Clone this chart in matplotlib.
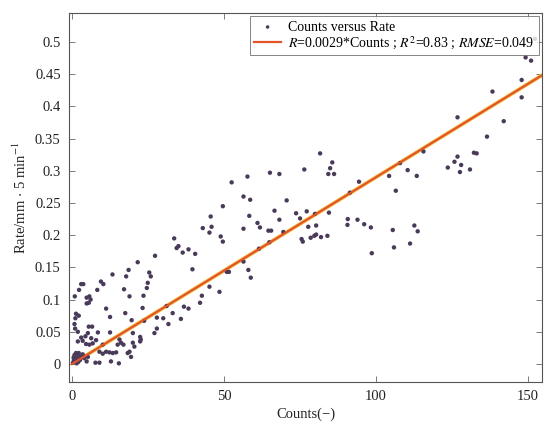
import matplotlib
matplotlib.use("Agg")
import matplotlib.pyplot as plt
import numpy as np

plt.rcParams['font.family'] = ['Liberation Serif', 'DejaVu Serif']
plt.rcParams['mathtext.fontset'] = 'stix'

counts = [
    0.3, 0.6, 1.0, 1.3, 1.8, 2.2, 2.6, 3.0, 3.5, 0.8, 1.5, 4.0, 2.0, 0.5,
    5.5, 11.2, 1.3, 2.2, 1.1, 12.5, 17.5, 0.8, 1.0, 1.9, 5.5, 6.6, 5.2, 4.4, 8.5, 12.5,
    3.0, 3.5, 4.6, 1.9, 6.3, 7.9, 5.7, 6.8, 10.1, 15.6, 16.1, 16.9, 15.0, 20.0, 20.5,
    9.0, 10.1, 11.2, 12.3, 13.4, 14.5, 18.3, 18.9, 1.3, 2.2, 5.2, 4.8, 7.7, 9.0, 12.8, 15.4, 19.4,
    27.3, 21.6, 13.3, 18.6, 25.4, 25.9, 17.8, 3.0, 3.7, 9.5, 10.3, 2.3, 8.3, 17.1, 24.9, 24.6,
    0.9, 4.8, 5.7, 6.1, 4.8, 18.9,
    23.5, 23.2, 31.1, 33.1, 35.8, 27.9, 30.0, 31.7, 23.7, 19.6, 27.9, 27.1, 22.4, 22.6, 22.4, 20.0,
    33.6, 34.4, 35.0,
    81.6, 85.6, 84.9, 84.3, 86.2, 76.4, 65.1, 68.2, 57.7, 52.5, 56.4, 58.6, 70.6, 49.6, 66.6,
    73.7, 75.0, 77.2, 79.9, 84.5, 58.3, 45.6, 68.2, 61.0, 61.8, 45.9, 43.0, 45.2, 56.4, 64.6,
    65.5, 69.5, 77.7, 80.3, 75.5, 75.9, 78.5, 79.7, 80.3, 81.9, 84.0, 90.7, 93.9, 90.6, 91.4,
    94.4, 48.9, 49.6, 56.4, 61.5, 64.9, 36.4, 38.3, 40.5, 39.6, 50.9, 51.6, 58.0, 58.8, 45.2,
    48.5, 42.7, 42.1, 36.8, 38.3,
    149.2, 151.0, 147.9, 147.9, 138.3, 142.0, 136.5, 126.8, 132.2, 133.1, 115.6, 107.9, 126.8,
    125.8, 128.0, 123.6, 127.6, 130.9, 110.4, 113.4, 104.3, 106.5, 96.1, 98.3, 105.5, 112.6,
    113.7, 111.2, 105.9, 98.6, 152.3,
]
rate = [
    0.002, 0.006, 0.004, 0.010, 0.008, 0.013, 0.006, 0.011, 0.015, 0.014, 0.001, 0.009, 0.003, 0.010,
    0.095, 0.086, 0.078, 0.075, 0.071, 0.073, 0.079, 0.062, 0.055, 0.050, 0.058, 0.058, 0.048, 0.043, 0.049, 0.049,
    0.041, 0.036, 0.031, 0.035, 0.040, 0.037, 0.030, 0.032, 0.030, 0.038, 0.033, 0.030, 0.030, 0.033, 0.027,
    0.019, 0.016, 0.019, 0.018, 0.017, 0.018, 0.017, 0.019, 0.017, 0.017, 0.011, 0.004, 0.002, 0.002, 0.004, 0.001, 0.011,
    0.168, 0.158, 0.139, 0.146, 0.142, 0.136, 0.136, 0.124, 0.124, 0.128, 0.124, 0.115, 0.115, 0.116, 0.126, 0.118,
    0.105, 0.103, 0.105, 0.100, 0.094, 0.105,
    0.106, 0.087, 0.090, 0.079, 0.070, 0.072, 0.071, 0.062, 0.067, 0.068, 0.055, 0.048, 0.042, 0.038, 0.035, 0.048,
    0.195, 0.180, 0.183,
    0.327, 0.313, 0.304, 0.295, 0.295, 0.302, 0.297, 0.295, 0.291, 0.282, 0.260, 0.255, 0.254, 0.245, 0.238,
    0.234, 0.226, 0.237, 0.233, 0.235, 0.230, 0.229, 0.224, 0.219, 0.212, 0.213, 0.211, 0.204, 0.210, 0.207,
    0.207, 0.205, 0.213, 0.215, 0.194, 0.190, 0.196, 0.199, 0.201, 0.197, 0.199, 0.225, 0.224, 0.216, 0.266,
    0.283, 0.198, 0.190, 0.159, 0.179, 0.189, 0.173, 0.178, 0.171, 0.147, 0.143, 0.143, 0.146, 0.134, 0.120,
    0.112, 0.106, 0.095, 0.089, 0.086,
    0.476, 0.471, 0.441, 0.414, 0.423, 0.377, 0.353, 0.383, 0.328, 0.327, 0.330, 0.312, 0.322,
    0.314, 0.309, 0.305, 0.298, 0.302, 0.301, 0.292, 0.292, 0.269, 0.217, 0.212, 0.208, 0.215,
    0.206, 0.187, 0.181, 0.172, 0.505,
]

slope = 0.0029
fit_x = [0, 155]
xticks = [0, 50, 100, 150]
yticks = [0, 0.05, 0.1, 0.15, 0.2, 0.25, 0.3, 0.35, 0.4, 0.45, 0.5]
ytick_labels = ['0', '0.05', '0.1', '0.15', '0.2', '0.25', '0.3', '0.35', '0.4', '0.45', '0.5']

fig = plt.figure(figsize=(5.46, 4.30), dpi=100)
ax = fig.add_axes([0.1264, 0.1116, 0.8663, 0.8582])

ax.scatter(counts, rate, s=10, color='#4a3a5a', edgecolors='none', zorder=3,
           label='Counts versus Rate')
fx = np.array(fit_x, dtype=float)
ax.plot(fx, slope * fx, color='#f2c94c', lw=2.8, zorder=2, solid_capstyle='butt')
ax.plot(fx, slope * fx, color='#e2552b', lw=1.6, zorder=4,
        label=r'$\mathit{R}$=0.0029*Counts ; $\mathit{R}^2$=0.83 ; $\mathit{RMSE}$=0.049')

ax.set_xlim(-1, 154.6)
ax.set_ylim(-0.028, 0.545)
ax.set_xticks(xticks)
ax.set_yticks(yticks)
ax.set_yticklabels(ytick_labels)
ax.tick_params(direction='in', top=True, right=True, labelsize=10.5,
               length=4, width=0.6, color='#666666', labelcolor='#222222', pad=6)
for sp in ax.spines.values():
    sp.set_color('#555555')
    sp.set_linewidth(0.8)

ax.set_xlabel('Counts(\u2212)', fontsize=10.5, color='#222222', labelpad=3)
ax.set_ylabel(r'Rate/mm$\,\cdot\,$5 min$^{-1}$', fontsize=10.5, color='#222222', labelpad=4)

leg = ax.legend(loc='upper right', fontsize=10, frameon=True, fancybox=False,
                edgecolor='#666666', borderpad=0.3, labelspacing=0.0,
                handlelength=2.0, handletextpad=0.5, borderaxespad=0.25,
                markerscale=0.8)
leg.get_frame().set_linewidth(0.7)

fig.savefig('out.png', dpi=100)
